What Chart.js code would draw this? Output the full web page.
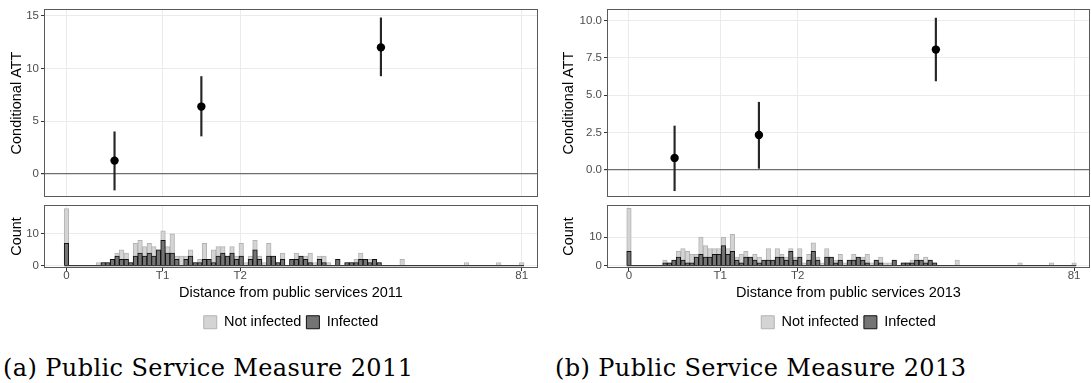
<!DOCTYPE html>
<html>
<head>
<meta charset="utf-8">
<script src="https://cdn.jsdelivr.net/npm/chart.js@4.4.1/dist/chart.umd.min.js"></script>
<style>
  body { margin: 0; background: #fff; }
  #page { position: relative; width: 1091px; height: 383px; overflow: hidden; background: #fff; }
  canvas { position: absolute; }
  .caption { position: absolute; top: 354px; font-family: 'DejaVu Serif', 'Liberation Serif', serif; font-size: 24px; letter-spacing: 0.4px; color: #000; white-space: nowrap; }
</style>
</head>
<body>
<div id="page">
  <canvas id="attA" width="540" height="200" style="left:0;top:0"></canvas>
  <canvas id="histA" width="540" height="140" style="left:0;top:200px"></canvas>
  <canvas id="attB" width="546" height="200" style="left:545px;top:0"></canvas>
  <canvas id="histB" width="546" height="140" style="left:545px;top:200px"></canvas>
  <div class="caption" style="left:3px">(a) Public Service Measure 2011</div>
  <div class="caption" style="left:555px">(b) Public Service Measure 2013</div>
</div>
<script>
// shared distance axis
const xMin = -4.0;
const xMax = 83.9;
const xTickLabels = ["0", "T1", "T2", "81"];
const binWidth = 81 / 99;

// 2011 measure
const xTicksA = [0, 17.1, 30.9, 81];
const pointXA = [8.55, 24.0, 55.95];
const attA = [1.27, 6.39, 12.0];
const loA = [-1.52, 3.6, 9.3];
const hiA = [4.0, 9.24, 14.8];
const attTicksA = [0, 5, 10, 15];
const attLabelsA = ["0", "5", "10", "15"];
const notInfectedA = [
  18, 0, 0, 0, 0, 0, 0, 1, 1, 1,
  2, 4, 5, 4, 1, 7, 8, 6, 7, 6,
  5, 11, 6, 10, 3, 3, 3, 5, 1, 2,
  7, 2, 5, 6, 6, 3, 6, 3, 7, 1,
  3, 8, 3, 1, 7, 3, 1, 4, 0, 2,
  4, 3, 3, 4, 1, 3, 3, 1, 0, 2,
  0, 1, 1, 2, 4, 2, 2, 2, 1, 0,
  0, 0, 0, 2, 0, 0, 0, 0, 0, 0,
  0, 0, 0, 0, 0, 0, 0, 1, 0, 0,
  0, 0, 0, 0, 1, 0, 0, 0, 0, 1
];
const infectedA = [
  7, 0, 0, 0, 0, 0, 0, 0, 1, 1,
  2, 3, 2, 2, 1, 3, 4, 3, 4, 3,
  5, 8, 4, 4, 2, 0, 2, 3, 1, 1,
  2, 2, 1, 3, 4, 3, 4, 2, 3, 0,
  2, 5, 2, 0, 3, 3, 1, 2, 0, 2,
  2, 3, 2, 1, 0, 2, 1, 0, 0, 2,
  0, 1, 1, 1, 2, 2, 1, 2, 1, 0,
  0, 0, 0, 0, 0, 0, 0, 0, 0, 0,
  0, 0, 0, 0, 0, 0, 0, 0, 0, 0,
  0, 0, 0, 0, 0, 0, 0, 0, 0, 0
];

// 2013 measure
const xTicksB = [0, 16.6, 30.7, 81];
const pointXB = [8.3, 23.65, 55.85];
const attB = [0.79, 2.33, 8.05];
const loB = [-1.41, 0.09, 5.95];
const hiB = [2.93, 4.52, 10.16];
const attTicksB = [0, 2.5, 5, 7.5, 10];
const attLabelsB = ["0.0", "2.5", "5.0", "7.5", "10.0"];
const notInfectedB = [
  20, 0, 0, 0, 0, 0, 0, 0, 2, 1,
  2, 5, 6, 5, 4, 4, 10, 7, 6, 6,
  6, 10, 6, 11, 3, 4, 5, 3, 4, 3,
  2, 6, 2, 6, 4, 3, 6, 3, 6, 1,
  4, 8, 3, 1, 6, 3, 2, 4, 1, 2,
  4, 3, 3, 4, 1, 2, 3, 1, 1, 2,
  0, 1, 1, 2, 4, 2, 3, 2, 1, 0,
  0, 0, 0, 2, 0, 0, 0, 0, 0, 0,
  0, 0, 0, 0, 0, 0, 0, 1, 0, 0,
  0, 0, 0, 0, 1, 0, 0, 0, 0, 1
];
const infectedB = [
  5, 0, 0, 0, 0, 0, 0, 0, 1, 1,
  2, 3, 2, 1, 1, 3, 4, 3, 3, 4,
  4, 7, 4, 5, 2, 1, 3, 3, 2, 1,
  2, 2, 2, 3, 3, 2, 5, 2, 3, 0,
  2, 5, 2, 0, 3, 3, 1, 2, 0, 2,
  2, 3, 2, 1, 0, 2, 1, 0, 0, 2,
  0, 1, 1, 1, 2, 2, 1, 2, 1, 0,
  0, 0, 0, 0, 0, 0, 0, 0, 0, 0,
  0, 0, 0, 0, 0, 0, 0, 0, 0, 0,
  0, 0, 0, 0, 0, 0, 0, 0, 0, 0
];
const countTicks = [0, 10];

const binCenters = notInfectedA.map((_, k) => k * binWidth);

Chart.defaults.font.family = "'Liberation Sans', Arial, sans-serif";
Chart.defaults.color = "#4d4d4d";

// full rectangle round the plotting area
const panelBorder = {
  id: "panelBorder",
  afterDraw(chart) {
    const { ctx, chartArea: a } = chart;
    ctx.save();
    ctx.strokeStyle = "#5a5a5a";
    ctx.lineWidth = 1;
    ctx.strokeRect(Math.round(a.left) + 0.5, Math.round(a.top) + 0.5,
      Math.round(a.right - a.left) - 1, Math.round(a.bottom - a.top) - 1);
    ctx.restore();
  }
};

const tickFont = { size: 11.5 };
const titleFont = { size: 14.5 };

// fixed axis width, and no extra room kept for the end labels
function fixY(width) {
  return s => {
    s.width = width;
    s.paddingTop = 0;
    s.paddingBottom = 0;
  };
}

function attChart(id, o) {
  return new Chart(document.getElementById(id), {
    type: "scatter",
    data: {
      datasets: [
        {
          type: "bar",
          data: o.x.map((x, i) => ({ x: x, y: [o.lo[i], o.hi[i]] })),
          backgroundColor: "#262626",
          barThickness: 1.5,
          order: 2
        },
        {
          type: "scatter",
          data: o.x.map((x, i) => ({ x: x, y: o.att[i] })),
          backgroundColor: "#000",
          borderWidth: 0,
          pointRadius: 4.2,
          order: 1
        }
      ]
    },
    options: {
      responsive: false,
      animation: false,
      layout: { autoPadding: false, padding: { top: 9, right: o.padRight, bottom: 3, left: 0 } },
      plugins: { legend: { display: false }, tooltip: { enabled: false } },
      scales: {
        x: {
          type: "linear", min: xMin, max: xMax, offset: false,
          afterBuildTicks: s => { s.ticks = o.xTicks.map(v => ({ value: v })); },
          afterFit: s => { s.height = 0; },
          ticks: { display: false },
          border: { display: false },
          grid: { color: "#ebebeb", drawTicks: false, offset: false }
        },
        y: {
          type: "linear", min: o.yMin, max: o.yMax,
          afterBuildTicks: s => { s.ticks = o.yTicks.map(v => ({ value: v })); },
          afterFit: fixY(o.axisWidth),
          ticks: { color: "#4d4d4d", font: tickFont, padding: 2, callback: (v, i) => o.yLabels[i] },
          border: { display: false },
          grid: {
            color: c => c.tick && c.tick.value === 0 ? "#6e6e6e" : "#ebebeb",
            lineWidth: c => c.tick && c.tick.value === 0 ? 1.2 : 1,
            tickLength: 3, tickColor: "#333"
          },
          title: { display: true, text: "Conditional ATT", color: "#000", font: titleFont, padding: { top: o.titlePad } }
        }
      }
    },
    plugins: [panelBorder]
  });
}

function histChart(id, o) {
  const edges = [binCenters[0] - binWidth / 2, binCenters[binCenters.length - 1] + binWidth / 2];
  return new Chart(document.getElementById(id), {
    type: "bar",
    data: {
      datasets: [
        {
          label: "Not infected",
          data: binCenters.map((x, k) => ({ x: x, y: o.notInfected[k] })),
          backgroundColor: "#d4d4d4",
          borderColor: "#b3b3b3",
          borderWidth: 1,
          order: 2
        },
        {
          label: "Infected",
          data: binCenters.map((x, k) => ({ x: x, y: o.infected[k] })),
          backgroundColor: "#747474",
          borderColor: "#111",
          borderWidth: 1,
          order: 1
        },
        {
          type: "line",
          label: "baseline",
          data: edges.map(x => ({ x: x, y: 0 })),
          borderColor: "#3a3a3a",
          borderWidth: 1.3,
          pointRadius: 0,
          order: 0
        }
      ]
    },
    options: {
      responsive: false,
      animation: false,
      datasets: { bar: { grouped: false, barPercentage: 1, categoryPercentage: 1 } },
      layout: { autoPadding: false, padding: { top: 5, right: o.padRight, bottom: 0.5, left: 0 } },
      plugins: {
        tooltip: { enabled: false },
        legend: {
          position: "bottom",
          fullSize: false,
          labels: {
            color: "#000", font: titleFont, boxWidth: 13, boxHeight: 13, padding: 5,
            filter: item => item.text !== "baseline",
            sort: (a, b) => a.datasetIndex - b.datasetIndex
          }
        }
      },
      scales: {
        x: {
          type: "linear", min: xMin, max: xMax, offset: false,
          afterBuildTicks: s => { s.ticks = o.xTicks.map(v => ({ value: v })); },
          afterFit: s => { s.height = 42; },
          ticks: { color: "#4d4d4d", font: tickFont, padding: -2, maxRotation: 0, autoSkip: false, callback: (v, i) => xTickLabels[i] },
          border: { display: false },
          grid: { color: "#ebebeb", tickLength: 3, tickColor: "#333", offset: false },
          title: { display: true, text: o.xTitle, color: "#000", font: titleFont, padding: { bottom: 8.6 } }
        },
        y: {
          type: "linear", min: o.yMin, max: o.yMax,
          afterBuildTicks: s => { s.ticks = countTicks.map(v => ({ value: v })); },
          afterFit: fixY(o.axisWidth),
          ticks: { color: "#4d4d4d", font: tickFont, padding: 2, callback: v => String(v) },
          border: { display: false },
          grid: { color: "#ebebeb", tickLength: 3, tickColor: "#333" },
          title: { display: true, text: "Count", color: "#000", font: titleFont, padding: { top: o.titlePad } }
        }
      }
    },
    plugins: [panelBorder]
  });
}

attChart("attA", {
  x: pointXA, att: attA, lo: loA, hi: hiA, xTicks: xTicksA,
  yMin: -2.18, yMax: 15.64, yTicks: attTicksA, yLabels: attLabelsA,
  axisWidth: 44, padRight: 2, titlePad: 8.3
});
histChart("histA", {
  notInfected: notInfectedA, infected: infectedA, xTicks: xTicksA,
  xTitle: "Distance from public services 2011",
  yMin: -0.73, yMax: 19.1, axisWidth: 44, padRight: 2, titlePad: 8.3
});
attChart("attB", {
  x: pointXB, att: attB, lo: loB, hi: hiB, xTicks: xTicksB,
  yMin: -1.83, yMax: 10.77, yTicks: attTicksB, yLabels: attLabelsB,
  axisWidth: 62, padRight: 1, titlePad: 15.3
});
histChart("histB", {
  notInfected: notInfectedB, infected: infectedB, xTicks: xTicksB,
  xTitle: "Distance from public services 2013",
  yMin: -0.8, yMax: 21.2, axisWidth: 62, padRight: 1, titlePad: 15.3
});
</script>
</body>
</html>
